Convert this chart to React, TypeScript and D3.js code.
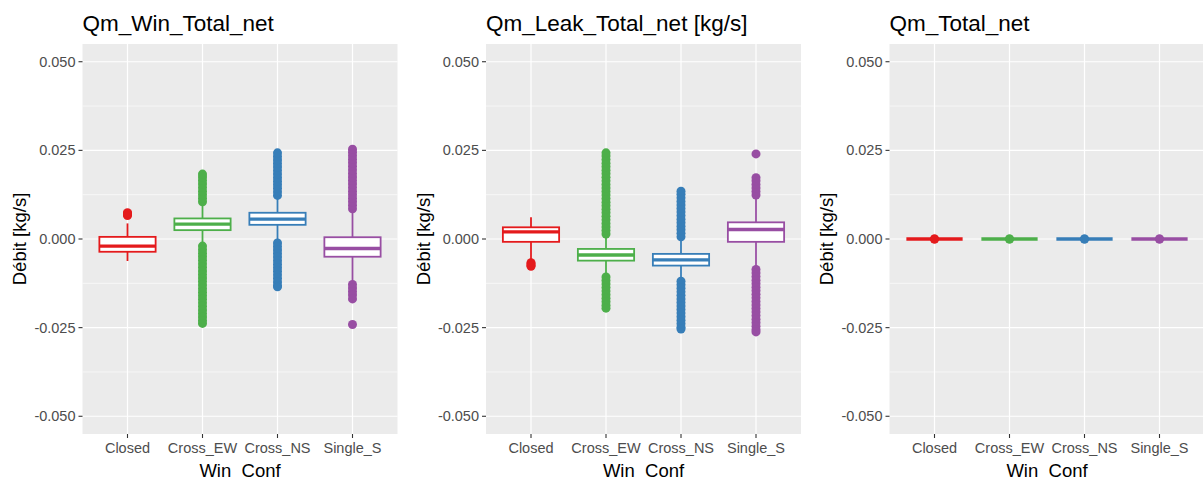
import React from "react";
import * as d3 from "d3";

const categories = ["Closed", "Cross_EW", "Cross_NS", "Single_S"];
const colors = ["#E41A1C", "#4DAF4A", "#377EB8", "#984EA3"];
const yTicks = [-0.05, -0.025, 0, 0.025, 0.05];
const yTickLabels = ["-0.050", "-0.025", "0.000", "0.025", "0.050"];
const yMinor = [-0.0375, -0.0125, 0.0125, 0.0375];
const panelTitles = ["Qm_Win_Total_net", "Qm_Leak_Total_net [kg/s]", "Qm_Total_net"];
const yTitle = "Débit [kg/s]";
const xTitle = "Win_Conf";

// Panel 1: Qm_Win_Total_net
const winQ1 = [-0.0036, 0.0025, 0.004, -0.005];
const winMedian = [-0.002, 0.0042, 0.0056, -0.0027];
const winQ3 = [0.0006, 0.0058, 0.0074, 0.0005];
const winLow = [-0.0062, -0.0015, -0.0005, -0.012];
const winHigh = [0.0044, 0.0098, 0.0118, 0.008];
const winOutliers = [
  [0.0066, 0.0069, 0.0072, 0.0074],
  [0.0105, 0.0115, 0.0125, 0.0135, 0.0145, 0.0155, 0.0165, 0.0175, 0.0183,
   -0.002, -0.003, -0.004, -0.005, -0.006, -0.007, -0.008, -0.009, -0.01, -0.011, -0.012,
   -0.013, -0.014, -0.015, -0.016, -0.017, -0.018, -0.019, -0.02, -0.021, -0.022, -0.023, -0.0238],
  [0.0123, 0.0133, 0.0143, 0.0153, 0.0163, 0.0173, 0.0183, 0.0193, 0.0203, 0.0213, 0.0223, 0.0233, 0.0243,
   -0.0011, -0.0021, -0.0031, -0.0041, -0.0051, -0.0061, -0.0071, -0.0081, -0.0091, -0.0101, -0.0111, -0.0121, -0.0131, -0.0135],
  [0.0085, 0.0095, 0.0105, 0.0115, 0.0125, 0.0135, 0.0145, 0.0155, 0.0165, 0.0175, 0.0185, 0.0195, 0.0205,
   0.0215, 0.0225, 0.0235, 0.0245, 0.0253,
   -0.0128, -0.0138, -0.0148, -0.0158, -0.0169, -0.0241],
];

// Panel 2: Qm_Leak_Total_net
const leakQ1 = [-0.0008, -0.0061, -0.0075, -0.0008];
const leakMedian = [0.002, -0.0045, -0.0059, 0.0027];
const leakQ3 = [0.0033, -0.0028, -0.0042, 0.0047];
const leakLow = [-0.006, -0.01, -0.0112, -0.0078];
const leakHigh = [0.0061, 0.0008, 0.0, 0.0115];
const leakOutliers = [
  [-0.0067, -0.007, -0.0074, -0.0077],
  [0.0014, 0.0024, 0.0034, 0.0044, 0.0054, 0.0064, 0.0074, 0.0084, 0.0094, 0.0104, 0.0114, 0.0124,
   0.0134, 0.0144, 0.0154, 0.0164, 0.0174, 0.0184, 0.0194, 0.0204, 0.0214, 0.0224, 0.0234, 0.0243,
   -0.0107, -0.0117, -0.0127, -0.0137, -0.0147, -0.0157, -0.0167, -0.0177, -0.0187, -0.0195],
  [0.0006, 0.0016, 0.0026, 0.0036, 0.0046, 0.0056, 0.0066, 0.0076, 0.0086, 0.0096, 0.0106, 0.0116, 0.0126, 0.0135,
   -0.0119, -0.0129, -0.0139, -0.0149, -0.0159, -0.0169, -0.0179, -0.0189, -0.0199, -0.0209, -0.0219,
   -0.0229, -0.0239, -0.0249, -0.0254],
  [0.0124, 0.0134, 0.0144, 0.0154, 0.0164, 0.0173, 0.024,
   -0.0086, -0.0096, -0.0106, -0.0116, -0.0126, -0.0136, -0.0146, -0.0156, -0.0166, -0.0176, -0.0186,
   -0.0196, -0.0206, -0.0216, -0.0226, -0.0236, -0.0246, -0.0256, -0.0262],
];

// Panel 3: Qm_Total_net
const totQ1 = [0, 0, 0, 0];
const totMedian = [0, 0, 0, 0];
const totQ3 = [0, 0, 0, 0];
const totLow = [0, 0, 0, 0];
const totHigh = [0, 0, 0, 0];
const totOutliers = [[0], [0], [0], [0]];

const panels = [
  { title: panelTitles[0], q1: winQ1, med: winMedian, q3: winQ3, lo: winLow, hi: winHigh, out: winOutliers },
  { title: panelTitles[1], q1: leakQ1, med: leakMedian, q3: leakQ3, lo: leakLow, hi: leakHigh, out: leakOutliers },
  { title: panelTitles[2], q1: totQ1, med: totMedian, q3: totQ3, lo: totLow, hi: totHigh, out: totOutliers },
];

const W = 1203;
const H = 477;
const plotLefts = [82.5, 486, 889.5];
const plotTop = 44;
const plotW = 315;
const plotH = 390;
const FONT = "'Liberation Sans', Arial, Helvetica, sans-serif";

function Panel({ p, left }: { p: any; left: number }) {
  const x = d3.scalePoint<string>().domain(categories).range([0, plotW]).padding(0.6);
  const y = d3.scaleLinear().domain([-0.055, 0.055]).range([plotH, 0]);
  const bw = x.step() * 0.75;
  return (
    <g transform={`translate(${left},${plotTop})`}>
      <text x={0} y={-13} fontSize={22.5} fill="#000" fontFamily={FONT}>{p.title}</text>
      <rect x={0} y={0} width={plotW} height={plotH} fill="#EBEBEB" />
      {yMinor.map((v) => (
        <line key={"mn" + v} x1={0} x2={plotW} y1={y(v)} y2={y(v)} stroke="#fff" strokeWidth={0.6} />
      ))}
      {yTicks.map((v) => (
        <line key={"mj" + v} x1={0} x2={plotW} y1={y(v)} y2={y(v)} stroke="#fff" strokeWidth={1.2} />
      ))}
      {categories.map((c) => (
        <line key={"vx" + c} x1={x(c)} x2={x(c)} y1={0} y2={plotH} stroke="#fff" strokeWidth={1.2} />
      ))}
      {categories.map((c, i) => {
        const cx = x(c)!;
        const col = colors[i];
        return (
          <g key={"box" + c}>
            <line x1={cx} x2={cx} y1={y(p.q3[i])} y2={y(p.hi[i])} stroke={col} strokeWidth={1.8} />
            <line x1={cx} x2={cx} y1={y(p.q1[i])} y2={y(p.lo[i])} stroke={col} strokeWidth={1.8} />
            {p.out[i].map((v: number, k: number) => (
              <circle key={k} cx={cx} cy={y(v)} r={4.5} fill={col} />
            ))}
            <rect x={cx - bw / 2} y={y(p.q3[i])} width={bw} height={Math.max(0, y(p.q1[i]) - y(p.q3[i]))}
              fill="#fff" stroke={col} strokeWidth={1.8} />
            <line x1={cx - bw / 2} x2={cx + bw / 2} y1={y(p.med[i])} y2={y(p.med[i])} stroke={col} strokeWidth={3.4} />
            {p.q1[i] === p.q3[i] && (
              <circle cx={cx} cy={y(p.med[i])} r={4.5} fill={col} />
            )}
          </g>
        );
      })}
      {yTicks.map((v, i) => (
        <g key={"yt" + v}>
          <line x1={-4} x2={0} y1={y(v)} y2={y(v)} stroke="#333" strokeWidth={1.1} />
          <text x={-7} y={y(v)} dy="0.35em" textAnchor="end" fontSize={14.5} fill="#4D4D4D" fontFamily={FONT}>
            {yTickLabels[i]}
          </text>
        </g>
      ))}
      {categories.map((c) => (
        <g key={"xt" + c}>
          <line x1={x(c)} x2={x(c)} y1={plotH} y2={plotH + 4} stroke="#333" strokeWidth={1.1} />
          <text x={x(c)} y={plotH + 18.5} textAnchor="middle" fontSize={14.5} fill="#4D4D4D" fontFamily={FONT}>
            {c}
          </text>
        </g>
      ))}
      <text x={plotW / 2} y={H - plotTop} textAnchor="middle" fontSize={18.5} fill="#000" fontFamily={FONT}>
        {xTitle}
      </text>
      <text transform={`translate(${-56.5},${plotH / 2}) rotate(-90)`} textAnchor="middle" fontSize={18.5}
        fill="#000" fontFamily={FONT}>
        {yTitle}
      </text>
    </g>
  );
}

export default function App() {
  return (
    <svg width={W} height={H} style={{ position: "absolute", left: 0, top: 0, background: "#fff" }}>
      <rect x={0} y={0} width={W} height={H} fill="#fff" />
      {panels.map((p, i) => (
        <Panel key={i} p={p} left={plotLefts[i]} />
      ))}
    </svg>
  );
}
